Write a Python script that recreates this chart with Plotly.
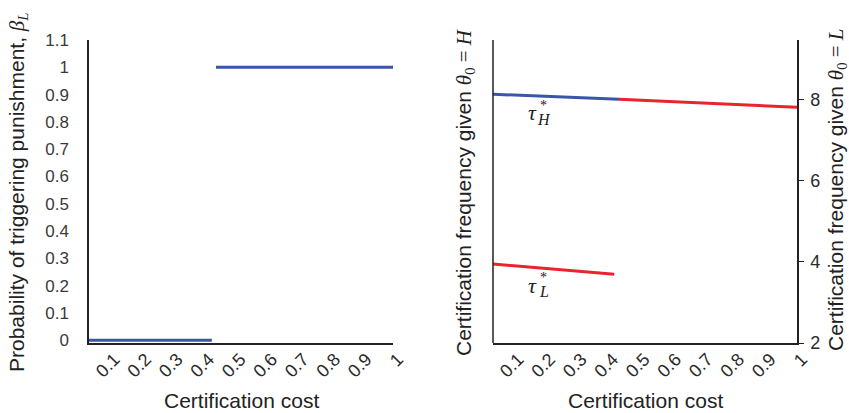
import plotly.graph_objects as go

# ---- data ----
tick_vals = [0.1, 0.2, 0.3, 0.4, 0.5, 0.6, 0.7, 0.8, 0.9, 1.0]
tick_text = ["0.1", "0.2", "0.3", "0.4", "0.5", "0.6", "0.7", "0.8", "0.9", "1"]

left_ticks = [0, 0.1, 0.2, 0.3, 0.4, 0.5, 0.6, 0.7, 0.8, 0.9, 1.0, 1.1]
left_tick_text = ["0", "0.1", "0.2", "0.3", "0.4", "0.5", "0.6", "0.7", "0.8", "0.9", "1", "1.1"]

beta_low_x = [0.035, 0.425]
beta_low_y = [0.0, 0.0]
beta_high_x = [0.438, 1.0]
beta_high_y = [1.0, 1.0]

tauH_blue_x = [0.035, 0.435]
tauH_blue_y = [8.14, 8.02]
tauH_red_x = [0.435, 1.0]
tauH_red_y = [8.02, 7.82]

tauL_x = [0.035, 0.42]
tauL_y = [3.95, 3.70]

right_ticks = [2, 4, 6, 8]

BLUE = "#3a56a8"
RED = "#e8252f"
FONT = "Liberation Sans, Arial, Helvetica, sans-serif"
SERIF = "Liberation Serif, Times New Roman, serif"
W, H = 849, 413

fig = go.Figure()
fig.add_trace(go.Scatter(x=beta_low_x, y=beta_low_y, mode="lines",
                         line=dict(color=BLUE, width=3), xaxis="x", yaxis="y"))
fig.add_trace(go.Scatter(x=beta_high_x, y=beta_high_y, mode="lines",
                         line=dict(color=BLUE, width=3), xaxis="x", yaxis="y"))
fig.add_trace(go.Scatter(x=tauH_blue_x, y=tauH_blue_y, mode="lines",
                         line=dict(color=BLUE, width=3), xaxis="x2", yaxis="y2"))
fig.add_trace(go.Scatter(x=tauH_red_x, y=tauH_red_y, mode="lines",
                         line=dict(color=RED, width=3), xaxis="x2", yaxis="y2"))
fig.add_trace(go.Scatter(x=tauL_x, y=tauL_y, mode="lines",
                         line=dict(color=RED, width=3), xaxis="x2", yaxis="y2"))

def px_x(p):
    return p / W

def px_y(p):
    return 1 - p / H

ydom = [px_y(343), px_y(40)]
xrange = [0.035, 1.0]
TICKC = "#2a2a2a"

common_x = dict(range=xrange, tickvals=tick_vals, ticktext=tick_text, tickangle=-45,
                showline=True, linecolor="#222", linewidth=1.5, showgrid=False,
                zeroline=False, ticks="", ticklabelstandoff=-3, ticklabelshift=5,
                automargin=False,
                tickfont=dict(family=FONT, size=18, color=TICKC))

fig.update_layout(
    width=W, height=H, margin=dict(l=0, r=0, t=0, b=0, autoexpand=False),
    paper_bgcolor="white", plot_bgcolor="white", showlegend=False,
    font=dict(family=FONT, color="#222"),
    xaxis=dict(domain=[px_x(89), px_x(393)], anchor="y", **common_x),
    yaxis=dict(domain=ydom, anchor="x", range=[-0.01, 1.1],
               tickvals=left_ticks, ticktext=left_tick_text,
               showline=True, linecolor="#222", linewidth=1.5, showgrid=False,
               zeroline=False, ticks="", ticklabelstandoff=15, automargin=False,
               tickfont=dict(family=FONT, size=17, color="#3a3a3a")),
    xaxis2=dict(domain=[px_x(493), px_x(797)], anchor="y2", **common_x),
    yaxis2=dict(domain=ydom, anchor="x2", range=[2, 9.48], side="right",
                tickvals=right_ticks, ticktext=[str(v) for v in right_ticks],
                showline=True, linecolor="#222", linewidth=1.5, showgrid=False,
                zeroline=False, ticks="outside", ticklen=5, tickcolor="#222",
                ticklabelstandoff=3, automargin=False,
                tickfont=dict(family=FONT, size=18, color=TICKC)),
)

# left border line of right panel
fig.add_shape(type="line", xref="x2 domain", yref="y2 domain", x0=0, x1=0, y0=0, y1=1,
              line=dict(color="#222", width=1.5))

def sp(s, italic=True):
    inner = f"<i>{s}</i>" if italic else s
    return f'<span style="font-family:{SERIF}">{inner}</span>'

TSIZE = 21

def note(text, x, y, size, family=FONT, angle=0):
    return dict(text=text, x=px_x(x), y=px_y(y), xref="paper", yref="paper",
                xanchor="center", yanchor="middle", textangle=angle, showarrow=False,
                font=dict(family=family, size=size, color="#222"))

ann = []
ann.append(note("Certification cost", 241, 400, TSIZE))
ann.append(note("Certification cost", 645, 400, TSIZE))
ann.append(note("Probability of triggering punishment, " + sp("β") + sp("<sub>L</sub>"),
                18, 192, TSIZE, angle=-90))
ann.append(note("Certification frequency given " + sp("θ") + sp("<sub>0</sub>", False)
                + sp(" = ", False) + sp("H"), 465, 192, TSIZE, angle=-90))
ann.append(note("Certification frequency given " + sp("θ") + sp("<sub>0</sub>", False)
                + sp(" = ", False) + sp("L"), 837, 190, TSIZE, angle=-90))

# tau labels (stacked super/subscript)
for (tx, ty, sub) in [(532, 113, "H"), (532, 285, "L")]:
    ann.append(note("<i>τ</i>", tx, ty, 22, SERIF))
    ann.append(note("*", tx + 11, ty - 8, 14, SERIF))
    ann.append(note(f"<i>{sub}</i>", tx + 12, ty + 6, 16, SERIF))

fig.update_layout(annotations=ann)

fig.write_html("out.html",
               config={"displayModeBar": False},
               post_script="document.body.style.margin='0';document.body.style.padding='0';document.body.style.overflow='hidden';")
